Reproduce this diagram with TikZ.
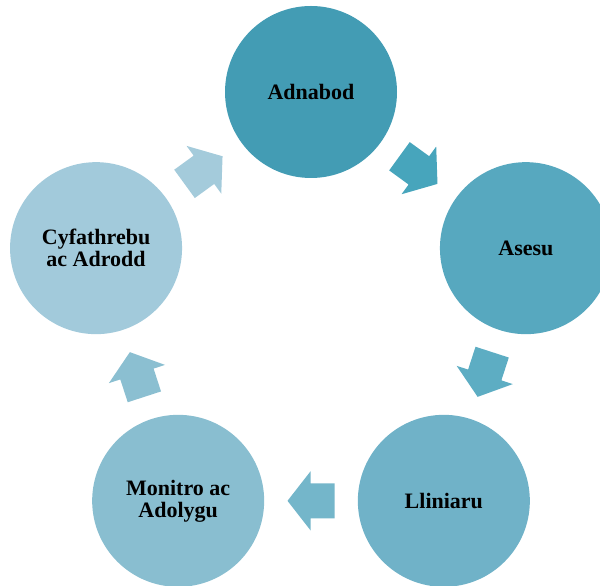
\documentclass[tikz,border=0pt]{standalone}
\usepackage{fontspec}
\setmainfont{Liberation Serif}
\usetikzlibrary{calc}

\definecolor{adnabodfill}{HTML}{439CB4}
\definecolor{asesufill}{HTML}{57A8BF}
\definecolor{lliniarufill}{HTML}{70B2C8}
\definecolor{monitrofill}{HTML}{89BED0}
\definecolor{cyfathrebufill}{HTML}{A2CADB}
\definecolor{arrowA}{HTML}{47A5BC}
\definecolor{arrowB}{HTML}{5DADC3}
\definecolor{arrowC}{HTML}{74B6CA}
\definecolor{arrowD}{HTML}{8BBFD1}
\definecolor{arrowE}{HTML}{A4CBDB}

\begin{document}
\begin{tikzpicture}[
  x=1pt, y=1pt,
  every node/.style={font=\fontsize{22}{22}\selectfont\bfseries},
  phase/.style={circle, minimum size=172pt, inner sep=0pt, align=center, text=black},
  blockarrow/.pic={\fill[pic actions] (-23.5,-17.5) -- (0.5,-17.5) -- (0.5,-29.5) -- (23.5,0) -- (0.5,29.5) -- (0.5,17.5) -- (-23.5,17.5) -- cycle;}
]
\clip (0,0) rectangle (600,586);
\coordinate (hub) at (311,268);

\node[phase, fill=adnabodfill]    (adnabod)    at ($(hub)+(90:226)$)   {Adnabod};
\node[phase, fill=asesufill]      (asesu)      at ($(hub)+(18:226)$)   {Asesu};
\node[phase, fill=lliniarufill]   (lliniaru)   at ($(hub)+(-54:226)$)  {Lliniaru};
\node[phase, fill=monitrofill]    (monitro)    at ($(hub)+(-126:226)$) {Monitro ac\\Adolygu};
\node[phase, fill=cyfathrebufill] (cyfathrebu) at ($(hub)+(162:226)$)  {Cyfathrebu\\ac Adrodd};

\path ($(adnabod)!0.5!(asesu)$)      pic[rotate=-36,  fill=arrowA] {blockarrow};
\path ($(asesu)!0.5!(lliniaru)$)     pic[rotate=-108, fill=arrowB] {blockarrow};
\path ($(lliniaru)!0.5!(monitro)$)   pic[rotate=180,  fill=arrowC] {blockarrow};
\path ($(monitro)!0.5!(cyfathrebu)$) pic[rotate=108,  fill=arrowD] {blockarrow};
\path ($(cyfathrebu)!0.5!(adnabod)$) pic[rotate=36,   fill=arrowE] {blockarrow};
\end{tikzpicture}
\end{document}
